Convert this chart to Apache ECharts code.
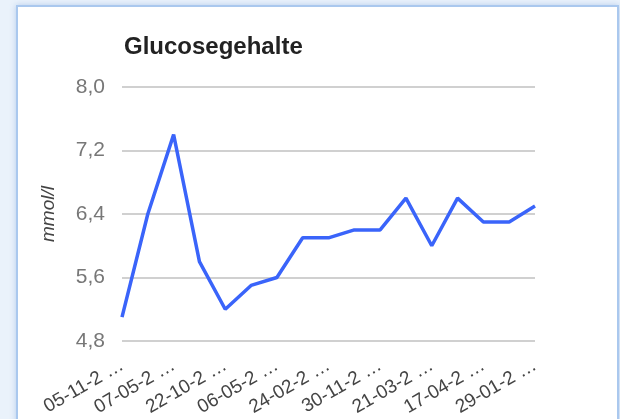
<!DOCTYPE html>
<html>
<head>
<meta charset="utf-8">
<script src="https://cdn.jsdelivr.net/npm/echarts@6/dist/echarts.min.js"></script>
<style>
  html, body { margin: 0; padding: 0; background: #eaf2fb; }
  #frame {
    position: absolute; left: 16px; top: 5px; width: 599px; height: 430px;
    background: #fff; border: 2px solid #aac8ee;
    box-shadow: 0 0 6px rgba(120,160,220,0.45);
  }
  #chart { position: absolute; left: 0; top: 0; width: 620px; height: 419px; }
</style>
</head>
<body>
<div id="frame"></div>
<div id="chart"></div>
<script>
var dates = ['05-11-2012', '14-01-2013', '07-05-2013', '20-08-2013', '22-10-2013',
    '18-02-2014', '06-05-2014', '15-09-2014', '24-02-2015', '12-07-2015',
    '30-11-2015', '08-02-2016', '21-03-2016', '25-10-2016', '17-04-2017',
    '09-09-2017', '29-01-2018'];
var glucose = [5.1, 6.4, 7.4, 5.8, 5.2, 5.5, 5.6, 6.1, 6.1, 6.2, 6.2, 6.6, 6.0, 6.6, 6.3, 6.3, 6.5];
var yTicks = { min: 4.8, max: 8.0, step: 0.8 };

/**
 * Lijndiagram glucose
 */
function drawGlucose() {
    var chart = echarts.init(document.getElementById('chart'));
    var option = {
        title: {
            text: 'Glucosegehalte',
            left: 119,
            top: 30,
            textStyle: {
                fontFamily: 'Liberation Sans',
                fontWeight: 'bold',
                fontSize: 24,
                color: '#222'
            }
        },
        grid: {
            left: 122,
            right: 85,
            top: 87,
            bottom: 78
        },
        xAxis: {
            type: 'category',
            data: dates,
            boundaryGap: false,
            axisLine: { show: false },
            axisTick: { show: false },
            axisLabel: {
                interval: 1,
                rotate: 30,
                margin: 23,
                fontFamily: 'Liberation Sans',
                fontSize: 19,
                color: '#444',
                formatter: function(v) {
                    return v.slice(0, 7) + ' …';
                }
            }
        },
        yAxis: {
            type: 'value',
            min: yTicks.min,
            max: yTicks.max,
            interval: yTicks.step,
            name: 'mmol/l',
            nameLocation: 'middle',
            nameGap: 64,
            nameTextStyle: {
                fontFamily: 'Liberation Sans',
                fontStyle: 'italic',
                fontSize: 19,
                color: '#444'
            },
            axisLine: { show: false },
            axisTick: { show: false },
            axisLabel: {
                margin: 17,
                fontFamily: 'Liberation Sans',
                fontSize: 21,
                color: '#777',
                formatter: function(v) {
                    return v.toFixed(1).replace('.', ',');
                }
            },
            splitLine: {
                lineStyle: { color: '#d0d0d0', width: 2 }
            }
        },
        series: [{
            name: 'Glucosegehalte',
            type: 'line',
            data: glucose,
            showSymbol: false,
            lineStyle: { color: '#3a64fa', width: 3.5 },
            itemStyle: { color: '#3a64fa' }
        }]
    };
    chart.setOption(option);
}

drawGlucose();
</script>
</body>
</html>
